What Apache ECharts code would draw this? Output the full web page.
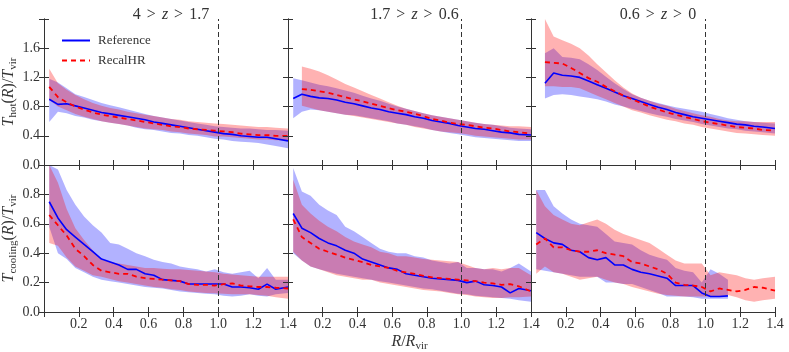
<!DOCTYPE html>
<html>
<head>
<meta charset="utf-8">
<script src="https://cdn.jsdelivr.net/npm/echarts@6/dist/echarts.min.js"></script>
<style>
  html, body { margin: 0; padding: 0; background: #fff; }
  #chart { width: 789px; height: 352px; }
</style>
</head>
<body>
<div id="chart"></div>
<script>
// radial bins (R/Rvir)
const X = [0.03, 0.08, 0.13, 0.18, 0.23, 0.28, 0.33, 0.38, 0.43, 0.48, 0.53, 0.58, 0.63, 0.68,
  0.73, 0.78, 0.83, 0.88, 0.93, 0.98, 1.03, 1.08, 1.13, 1.18, 1.23, 1.28, 1.33, 1.4];

const titles = ["4 > z > 1.7", "1.7 > z > 0.6", "0.6 > z > 0"];
const xTicks = [0.2, 0.4, 0.6, 0.8, 1.0, 1.2, 1.4];
const hotTicks = [0.0, 0.4, 0.8, 1.2, 1.6];
const coolTicks = [0.0, 0.2, 0.4, 0.6, 0.8];

// ---- T_hot / T_vir, 4 > z > 1.7
const hot1Ref = [0.90, 0.83, 0.84, 0.81, 0.78, 0.75, 0.72, 0.70, 0.68, 0.66, 0.64, 0.62, 0.59, 0.57, 0.55, 0.53, 0.51, 0.49, 0.47, 0.45, 0.43, 0.42, 0.40, 0.39, 0.38, 0.38, 0.36, 0.33];
const hot1RefLo = [0.59, 0.73, 0.71, 0.67, 0.65, 0.62, 0.60, 0.58, 0.56, 0.54, 0.51, 0.49, 0.48, 0.46, 0.44, 0.43, 0.41, 0.40, 0.38, 0.36, 0.35, 0.33, 0.32, 0.31, 0.30, 0.28, 0.26, 0.23];
const hot1RefHi = [1.18, 1.13, 1.05, 0.97, 0.93, 0.89, 0.85, 0.82, 0.79, 0.76, 0.73, 0.70, 0.67, 0.65, 0.63, 0.61, 0.59, 0.57, 0.55, 0.53, 0.52, 0.51, 0.50, 0.50, 0.49, 0.48, 0.48, 0.47];
const hot1Rec = [1.07, 0.93, 0.86, 0.80, 0.76, 0.72, 0.69, 0.67, 0.65, 0.63, 0.61, 0.59, 0.57, 0.55, 0.53, 0.52, 0.50, 0.49, 0.48, 0.47, 0.46, 0.45, 0.43, 0.42, 0.41, 0.41, 0.40, 0.40];
const hot1RecLo = [0.89, 0.80, 0.75, 0.70, 0.66, 0.63, 0.60, 0.58, 0.56, 0.54, 0.52, 0.50, 0.49, 0.48, 0.46, 0.45, 0.43, 0.42, 0.41, 0.39, 0.39, 0.38, 0.37, 0.36, 0.35, 0.35, 0.34, 0.34];
const hot1RecHi = [1.32, 1.12, 1.03, 0.96, 0.90, 0.85, 0.81, 0.78, 0.76, 0.73, 0.71, 0.69, 0.67, 0.65, 0.63, 0.62, 0.60, 0.59, 0.58, 0.57, 0.56, 0.55, 0.54, 0.53, 0.52, 0.52, 0.51, 0.50];

// ---- T_hot / T_vir, 1.7 > z > 0.6
const hot2Ref = [0.91, 0.97, 0.94, 0.92, 0.91, 0.89, 0.86, 0.84, 0.81, 0.78, 0.76, 0.73, 0.71, 0.69, 0.66, 0.64, 0.61, 0.59, 0.57, 0.54, 0.52, 0.50, 0.49, 0.47, 0.45, 0.44, 0.42, 0.41];
const hot2RefLo = [0.64, 0.73, 0.76, 0.75, 0.73, 0.71, 0.69, 0.68, 0.66, 0.64, 0.62, 0.60, 0.57, 0.55, 0.53, 0.51, 0.48, 0.46, 0.44, 0.42, 0.40, 0.38, 0.37, 0.36, 0.35, 0.34, 0.33, 0.33];
const hot2RefHi = [1.19, 1.16, 1.13, 1.10, 1.08, 1.05, 1.02, 0.99, 0.95, 0.91, 0.88, 0.84, 0.80, 0.77, 0.74, 0.71, 0.68, 0.66, 0.64, 0.62, 0.60, 0.58, 0.56, 0.55, 0.53, 0.51, 0.50, 0.49];
const hot2Rec = [null, 1.04, 1.03, 1.01, 0.99, 0.96, 0.93, 0.90, 0.87, 0.84, 0.81, 0.78, 0.75, 0.73, 0.70, 0.67, 0.63, 0.61, 0.58, 0.56, 0.55, 0.53, 0.51, 0.50, 0.48, 0.46, 0.45, 0.43];
const hot2RecLo = [null, 0.81, 0.78, 0.75, 0.73, 0.71, 0.69, 0.67, 0.65, 0.63, 0.61, 0.59, 0.57, 0.55, 0.52, 0.50, 0.48, 0.46, 0.45, 0.44, 0.42, 0.40, 0.39, 0.38, 0.37, 0.36, 0.35, 0.35];
const hot2RecHi = [null, 1.35, 1.32, 1.28, 1.23, 1.17, 1.11, 1.06, 1.01, 0.96, 0.91, 0.86, 0.81, 0.77, 0.74, 0.71, 0.68, 0.66, 0.64, 0.62, 0.60, 0.58, 0.56, 0.55, 0.54, 0.53, 0.53, 0.52];

// ---- T_hot / T_vir, 0.6 > z > 0
const hot3Ref = [null, 1.12, 1.26, 1.23, 1.22, 1.20, 1.15, 1.10, 1.05, 1.00, 0.95, 0.91, 0.87, 0.83, 0.79, 0.76, 0.72, 0.69, 0.66, 0.64, 0.62, 0.60, 0.58, 0.56, 0.55, 0.53, 0.52, 0.50];
const hot3RefLo = [null, 0.91, 0.96, 0.97, 0.96, 0.94, 0.92, 0.90, 0.87, 0.83, 0.80, 0.77, 0.74, 0.71, 0.68, 0.66, 0.63, 0.61, 0.59, 0.56, 0.54, 0.52, 0.50, 0.49, 0.47, 0.46, 0.45, 0.43];
const hot3RefHi = [null, 1.53, 1.60, 1.48, 1.47, 1.45, 1.38, 1.30, 1.21, 1.12, 1.04, 0.97, 0.92, 0.88, 0.85, 0.82, 0.79, 0.77, 0.75, 0.73, 0.70, 0.67, 0.64, 0.62, 0.60, 0.59, 0.58, 0.57];
const hot3Rec = [null, 1.41, 1.40, 1.39, 1.33, 1.26, 1.19, 1.14, 1.07, 1.01, 0.95, 0.90, 0.85, 0.80, 0.76, 0.72, 0.69, 0.66, 0.63, 0.60, 0.58, 0.56, 0.54, 0.52, 0.51, 0.50, 0.48, 0.47];
const hot3RecLo = [null, 1.08, 1.08, 1.07, 1.07, 1.05, 1.00, 0.95, 0.90, 0.85, 0.80, 0.75, 0.72, 0.68, 0.65, 0.62, 0.60, 0.57, 0.55, 0.52, 0.50, 0.48, 0.46, 0.44, 0.43, 0.42, 0.41, 0.40];
const hot3RecHi = [null, 2.0, 1.76, 1.71, 1.66, 1.60, 1.50, 1.38, 1.27, 1.16, 1.06, 0.98, 0.92, 0.88, 0.84, 0.81, 0.77, 0.74, 0.71, 0.68, 0.66, 0.63, 0.61, 0.60, 0.60, 0.59, 0.59, 0.59];

// ---- T_cooling / T_vir, 4 > z > 1.7
const cool1Ref = [0.75, 0.64, 0.56, 0.51, 0.46, 0.41, 0.36, 0.34, 0.32, 0.29, 0.29, 0.26, 0.25, 0.22, 0.215, 0.21, 0.19, 0.19, 0.19, 0.19, 0.19, 0.17, 0.17, 0.165, 0.155, 0.19, 0.155, 0.17];
const cool1RefLo = [0.58, 0.40, 0.36, 0.30, 0.27, 0.24, 0.22, 0.21, 0.20, 0.19, 0.18, 0.17, 0.165, 0.16, 0.15, 0.14, 0.135, 0.13, 0.125, 0.12, 0.11, 0.105, 0.11, 0.12, 0.11, 0.105, 0.12, 0.13];
const cool1RefHi = [1.0, 0.97, 0.83, 0.73, 0.65, 0.59, 0.54, 0.47, 0.46, 0.43, 0.40, 0.38, 0.355, 0.34, 0.33, 0.31, 0.30, 0.29, 0.275, 0.29, 0.27, 0.26, 0.27, 0.28, 0.23, 0.30, 0.22, 0.22];
const cool1Rec = [0.66, 0.59, 0.52, 0.43, 0.38, 0.32, 0.28, 0.27, 0.26, 0.26, 0.24, 0.23, 0.225, 0.22, 0.215, 0.21, 0.19, 0.185, 0.185, 0.18, 0.19, 0.195, 0.18, 0.175, 0.17, 0.17, 0.165, 0.16];
const cool1RecLo = [0.47, 0.45, 0.37, 0.31, 0.28, 0.25, 0.24, 0.225, 0.21, 0.20, 0.19, 0.18, 0.17, 0.165, 0.155, 0.15, 0.14, 0.135, 0.13, 0.127, 0.125, 0.12, 0.12, 0.12, 0.115, 0.11, 0.10, 0.09];
const cool1RecHi = [1.0, 0.88, 0.70, 0.57, 0.49, 0.42, 0.355, 0.34, 0.33, 0.32, 0.31, 0.30, 0.30, 0.295, 0.29, 0.29, 0.285, 0.28, 0.275, 0.27, 0.26, 0.255, 0.25, 0.245, 0.24, 0.24, 0.24, 0.24];

// ---- T_cooling / T_vir, 1.7 > z > 0.6
const cool2Ref = [0.67, 0.57, 0.54, 0.50, 0.47, 0.45, 0.42, 0.40, 0.36, 0.34, 0.32, 0.30, 0.29, 0.26, 0.25, 0.24, 0.23, 0.225, 0.22, 0.215, 0.20, 0.21, 0.185, 0.18, 0.17, 0.13, 0.16, 0.145];
const cool2RefLo = [0.40, 0.35, 0.31, 0.29, 0.275, 0.26, 0.25, 0.24, 0.23, 0.22, 0.21, 0.20, 0.19, 0.18, 0.17, 0.16, 0.155, 0.145, 0.135, 0.125, 0.12, 0.11, 0.105, 0.10, 0.095, 0.09, 0.08, 0.07];
const cool2RefHi = [0.98, 0.82, 0.79, 0.73, 0.69, 0.66, 0.58, 0.55, 0.51, 0.47, 0.43, 0.41, 0.40, 0.40, 0.38, 0.37, 0.35, 0.34, 0.33, 0.34, 0.30, 0.30, 0.29, 0.29, 0.275, 0.30, 0.33, 0.275];
const cool2Rec = [0.63, 0.51, 0.47, 0.43, 0.41, 0.39, 0.37, 0.355, 0.34, 0.32, 0.31, 0.30, 0.28, 0.27, 0.26, 0.245, 0.235, 0.23, 0.225, 0.22, 0.215, 0.21, 0.20, 0.195, 0.185, 0.19, 0.175, 0.14];
const cool2RecLo = [0.41, 0.35, 0.31, 0.29, 0.27, 0.25, 0.24, 0.23, 0.22, 0.22, 0.20, 0.19, 0.18, 0.17, 0.16, 0.15, 0.145, 0.14, 0.13, 0.12, 0.115, 0.105, 0.10, 0.095, 0.095, 0.10, 0.10, 0.105];
const cool2RecHi = [0.90, 0.73, 0.67, 0.62, 0.58, 0.55, 0.51, 0.48, 0.46, 0.44, 0.41, 0.40, 0.38, 0.38, 0.37, 0.36, 0.355, 0.35, 0.345, 0.34, 0.32, 0.30, 0.29, 0.30, 0.29, 0.30, 0.30, 0.25];

// ---- T_cooling / T_vir, 0.6 > z > 0
const cool3Ref = [0.54, 0.50, 0.47, 0.46, 0.42, 0.41, 0.37, 0.355, 0.37, 0.32, 0.32, 0.29, 0.27, 0.26, 0.245, 0.23, 0.18, 0.18, 0.18, 0.13, 0.105, 0.105, 0.11, null, null, null, null, null];
const cool3RefLo = [0.29, 0.28, 0.27, 0.26, 0.25, 0.24, 0.24, 0.24, 0.20, 0.20, 0.19, 0.19, 0.17, 0.15, 0.13, 0.105, 0.105, 0.105, 0.10, 0.09, 0.09, 0.09, 0.09, null, null, null, null, null];
const cool3RefHi = [0.83, 0.83, 0.72, 0.67, 0.63, 0.60, 0.59, 0.58, 0.53, 0.48, 0.47, 0.46, 0.42, 0.39, 0.37, 0.355, 0.30, 0.28, 0.27, 0.20, 0.29, 0.26, 0.22, null, null, null, null, null];
const cool3Rec = [0.46, 0.50, 0.44, 0.44, 0.42, 0.41, 0.41, 0.42, 0.40, 0.39, 0.38, 0.34, 0.33, 0.31, 0.29, 0.26, 0.20, 0.185, 0.18, 0.17, 0.14, 0.16, 0.15, 0.14, 0.15, 0.17, 0.165, 0.145];
const cool3RecLo = [0.26, 0.31, 0.27, 0.26, 0.24, 0.22, 0.23, 0.24, 0.22, 0.20, 0.19, 0.17, 0.155, 0.14, 0.125, 0.115, 0.11, 0.105, 0.105, 0.105, 0.105, 0.105, 0.115, 0.10, 0.08, 0.07, 0.08, 0.09];
const cool3RecHi = [0.83, 0.72, 0.66, 0.63, 0.60, 0.59, 0.61, 0.63, 0.60, 0.56, 0.53, 0.51, 0.49, 0.47, 0.43, 0.39, 0.35, 0.33, 0.33, 0.33, 0.25, 0.27, 0.26, 0.25, 0.23, 0.22, 0.23, 0.24];

const panels = [
  [hot1Ref, hot1RefLo, hot1RefHi, hot1Rec, hot1RecLo, hot1RecHi],
  [hot2Ref, hot2RefLo, hot2RefHi, hot2Rec, hot2RecLo, hot2RecHi],
  [hot3Ref, hot3RefLo, hot3RefHi, hot3Rec, hot3RecLo, hot3RecHi],
  [cool1Ref, cool1RefLo, cool1RefHi, cool1Rec, cool1RecLo, cool1RecHi],
  [cool2Ref, cool2RefLo, cool2RefHi, cool2Rec, cool2RecLo, cool2RecHi],
  [cool3Ref, cool3RefLo, cool3RefHi, cool3Rec, cool3RecLo, cool3RecHi]
];

const SERIF = "'Liberation Serif', 'DejaVu Serif', serif";
const INK = "#333";
const cols = [[44, 244], [288, 243], [531, 244]];
const rows = [[19, 146], [165, 147]];

const rich = {
  i: { fontFamily: SERIF, fontStyle: "italic", fontSize: 16, lineHeight: 20, color: INK },
  n: { fontFamily: SERIF, fontSize: 16, lineHeight: 20, color: INK },
  s: { fontFamily: SERIF, fontSize: 11, lineHeight: 12, verticalAlign: "bottom", color: INK }
};

function pairs(ys) {
  return X.map((x, i) => [x, ys[i]]).filter(p => p[1] != null);
}

function band(g, lo, hi, color) {
  const pts = X.map((x, i) => [x, lo[i], hi[i]]).filter(p => p[1] != null && p[2] != null);
  return {
    type: "custom",
    xAxisIndex: g * 2,
    yAxisIndex: g * 2,
    silent: true,
    clip: true,
    z: 1,
    encode: { x: 0, y: [1, 2] },
    data: pts,
    renderItem: function (params, api) {
      if (params.dataIndex !== 0) return null;
      const up = pts.map(p => api.coord([p[0], p[2]]));
      const dn = pts.slice().reverse().map(p => api.coord([p[0], p[1]]));
      return { type: "polygon", shape: { points: up.concat(dn) }, style: { fill: color } };
    }
  };
}

const grid = [], xAxis = [], yAxis = [], series = [], title = [];

for (let g = 0; g < 6; g++) {
  const r = Math.floor(g / 3), c = g % 3;
  const top = r === 0;
  grid.push({ left: cols[c][0], width: cols[c][1], top: rows[r][0], height: rows[r][1], outerBoundsMode: "none" });

  const tickCommon = { show: true, inside: true, length: 5, lineStyle: { color: INK } };
  const lineCommon = { show: true, lineStyle: { color: INK, width: 1 } };

  xAxis.push({
    gridIndex: g, type: "value", min: 0, max: 1.4, interval: 0.2, position: "bottom", z: 5,
    axisLine: lineCommon, axisTick: tickCommon, splitLine: { show: false },
    axisLabel: {
      show: !top, margin: 5, color: INK, fontFamily: SERIF, fontSize: 14,
      formatter: v => (xTicks.some(t => Math.abs(t - v) < 1e-6) ? v.toFixed(1) : "")
    },
    name: g === 4 ? "{i|R}{n|/}{i|R}{s|vir}" : "",
    nameLocation: "middle", nameGap: 20,
    nameTextStyle: { rich: rich }
  });
  xAxis.push({
    gridIndex: g, type: "value", min: 0, max: 1.4, interval: 0.2, position: "top", z: 5,
    axisLine: lineCommon, axisTick: tickCommon, axisLabel: { show: false }, splitLine: { show: false }
  });

  const yTicks = top ? hotTicks : coolTicks;
  yAxis.push({
    gridIndex: g, type: "value", min: 0, max: top ? 2.0 : 1.0, interval: top ? 0.4 : 0.2, position: "left", z: 5,
    axisLine: lineCommon, axisTick: tickCommon, splitLine: { show: false },
    axisLabel: {
      show: c === 0, margin: 4, color: INK, fontFamily: SERIF, fontSize: 14,
      formatter: v => (yTicks.some(t => Math.abs(t - v) < 1e-6) ? v.toFixed(1) : "")
    },
    name: c === 0 ? (top ? "{i|T}{s|hot}{n|(}{i|R}{n|)/}{i|T}{s|vir}" : "{i|T}{s|cooling}{n|(}{i|R}{n|)/}{i|T}{s|vir}") : "",
    nameLocation: "middle", nameGap: 24, nameRotate: 90,
    nameTextStyle: { rich: rich }
  });
  yAxis.push({
    gridIndex: g, type: "value", min: 0, max: top ? 2.0 : 1.0, interval: top ? 0.4 : 0.2, position: "right", z: 5,
    axisLine: lineCommon, axisTick: tickCommon, axisLabel: { show: false }, splitLine: { show: false }
  });

  if (top) {
    const parts = titles[c].split(" ");
    title.push({
      text: parts[0] + " {o|>} {i|z} {o|>} " + parts[4],
      left: cols[c][0] + cols[c][1] / 2, top: 2, textAlign: "center",
      textStyle: {
        fontFamily: SERIF, fontSize: 16, fontWeight: "normal", color: INK,
        rich: {
          i: { fontFamily: SERIF, fontStyle: "italic", fontSize: 16, color: INK },
          o: { fontFamily: SERIF, fontSize: 16, color: INK, padding: [0, 2] }
        }
      }
    });
  }

  const [ref, refLo, refHi, rec, recLo, recHi] = panels[g];
  series.push(band(g, refLo, refHi, "rgba(0, 0, 255, 0.3)"));
  series.push(band(g, recLo, recHi, "rgba(255, 0, 0, 0.3)"));
  series.push({
    name: "Reference", type: "line", xAxisIndex: g * 2, yAxisIndex: g * 2,
    data: pairs(ref), symbol: "none", z: 4, silent: true,
    itemStyle: { color: "#0000ff" },
    lineStyle: { color: "#0000ff", width: 1.6 },
    markLine: {
      silent: true, symbol: "none", label: { show: false },
      lineStyle: { color: INK, type: [5, 3], width: 1 },
      data: [{ xAxis: 1.0 }]
    }
  });
  series.push({
    name: "RecalHR", type: "line", xAxisIndex: g * 2, yAxisIndex: g * 2,
    data: pairs(rec), symbol: "none", z: 4, silent: true,
    itemStyle: { color: "#ff0000" },
    lineStyle: { color: "#ff0000", width: 1.8, type: [5, 4] }
  });
}

const chart = echarts.init(document.getElementById("chart"));
chart.setOption({
  animation: false,
  backgroundColor: "#fff",
  title: title,
  legend: {
    data: ["Reference", "RecalHR"],
    orient: "vertical", left: 56, top: 29, itemWidth: 28, itemHeight: 12, itemGap: 7,
    itemStyle: { opacity: 0 },
    textStyle: { fontFamily: SERIF, fontSize: 13, color: INK, padding: [0, 0, 0, 3] }
  },
  grid: grid,
  xAxis: xAxis,
  yAxis: yAxis,
  series: series
});
window.addEventListener("resize", () => chart.resize());
</script>
</body>
</html>
